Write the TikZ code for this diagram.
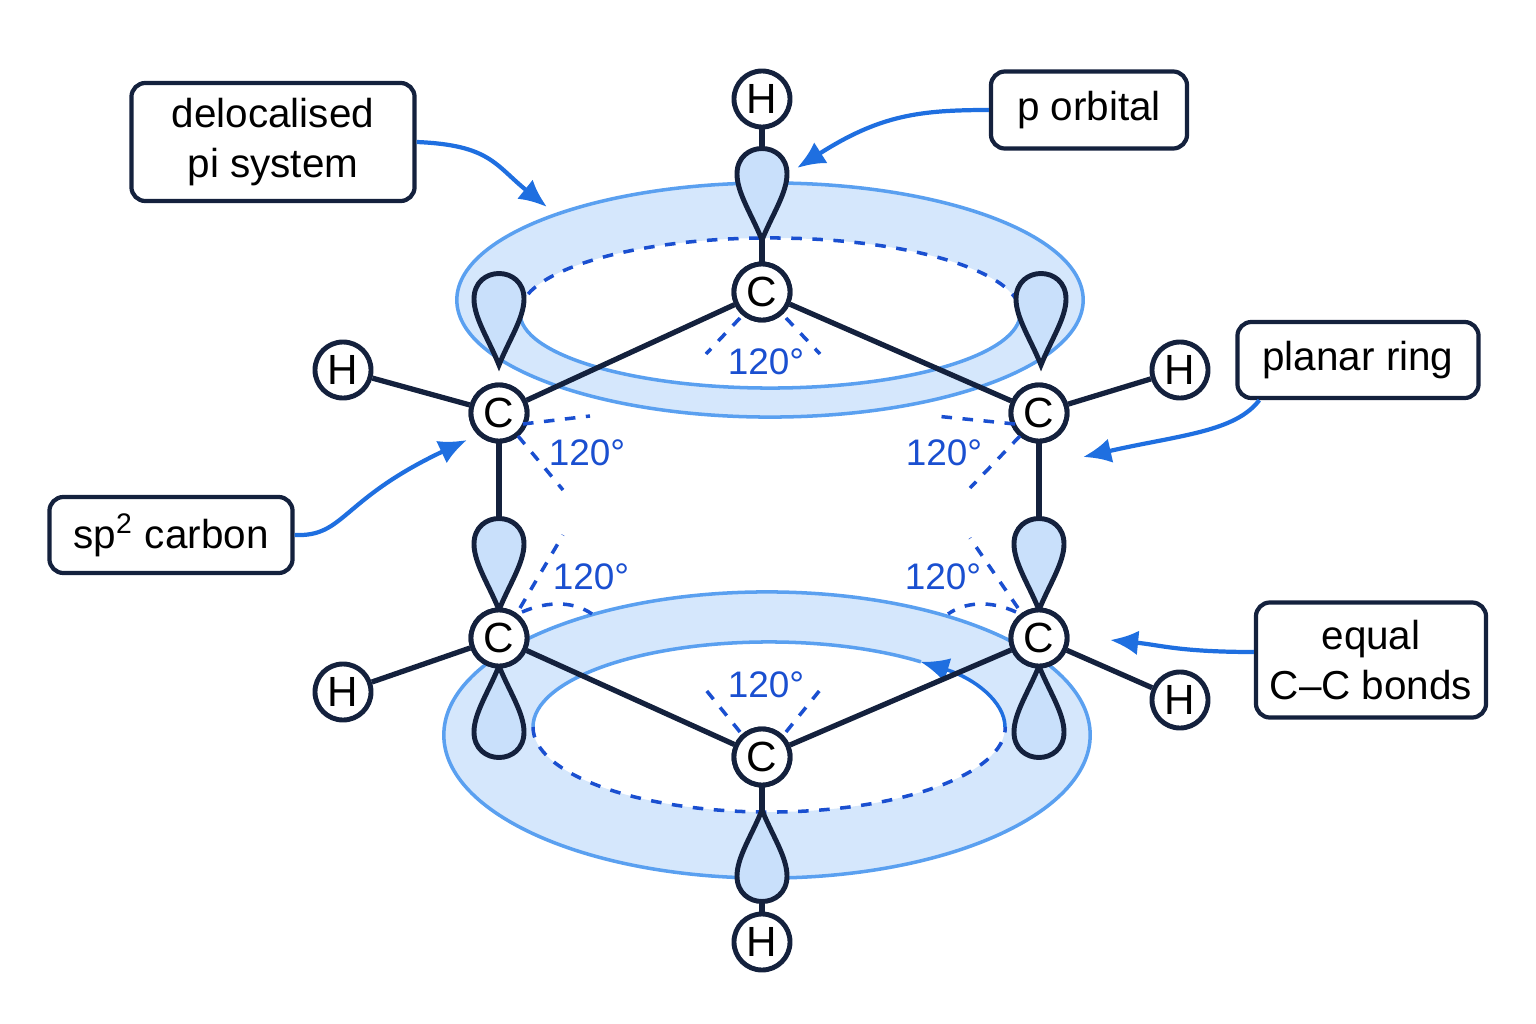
\documentclass[tikz,border=0pt]{standalone}
\usepackage{fontspec}
\setmainfont{Liberation Sans}
\usetikzlibrary{arrows.meta,positioning,calc}
\definecolor{navy}{HTML}{14213D}
\definecolor{ringfill}{HTML}{D5E7FC}
\definecolor{ringline}{HTML}{5AA0F0}
\definecolor{dashblue}{HTML}{1A4FD0}
\definecolor{callout}{HTML}{1F6FE0}
\definecolor{lobefill}{HTML}{C9E0FB}

\tikzset{
  atom/.style={circle, draw=navy, line width=1.4pt, fill=white, minimum size=0.56cm, inner sep=0pt, font=\fontsize{12}{12}\selectfont},
  bond/.style={navy, line width=1.5pt},
  label box/.style={draw=navy, line width=1.2pt, rounded corners=4pt, fill=white, align=center, font=\fontsize{11.5}{14}\selectfont},
  callout arrow/.style={callout, line width=1.2pt, -{Latex[length=8pt,width=7pt]}},
  angle/.style={dashblue, line width=1pt, dash pattern=on 3pt off 3pt},
  angle text/.style={text=dashblue, font=\fontsize{10.5}{10.5}\selectfont},
  lobe/.pic={
    \draw[navy, line width=1.4pt, fill=lobefill]
      (0,0) .. controls (-10,-25) and (-25,-47) .. (-25,-66)
      .. controls (-25,-100) and (25,-100) .. (25,-66)
      .. controls (25,-47) and (10,-25) .. (0,0) -- cycle;
  }
}

\begin{document}
\begin{tikzpicture}[x=0.01cm, y=-0.01cm]
  \useasboundingbox (0,0) rectangle (1536,1024);

  % pi rings
  \fill[ringfill, even odd rule] (770,300) ellipse [x radius=3.13cm, y radius=1.17cm]
    (770,313) ellipse [x radius=2.5cm, y radius=0.75cm];
  \draw[ringline, line width=1pt] (770,300) ellipse [x radius=3.13cm, y radius=1.17cm];
  \draw[ringline, line width=1pt] (520,313) arc [start angle=180, end angle=360, x radius=2.5cm, y radius=0.75cm];
  \draw[angle] (520,313) arc [start angle=180, end angle=0, x radius=2.5cm, y radius=0.75cm];

  \fill[ringfill, even odd rule] (767,735) ellipse [x radius=3.23cm, y radius=1.43cm]
    (769,727) ellipse [x radius=2.36cm, y radius=0.85cm];
  \draw[ringline, line width=1pt] (767,735) ellipse [x radius=3.23cm, y radius=1.43cm];
  \draw[ringline, line width=1pt] (533,727) arc [start angle=180, end angle=50, x radius=2.36cm, y radius=0.85cm];
  \draw[angle] (533,727) arc [start angle=180, end angle=360, x radius=2.36cm, y radius=0.85cm];
  \draw[callout, line width=1pt, -{Latex[length=8pt,width=7pt]}] (1005,727) arc [start angle=0, end angle=50, x radius=2.36cm, y radius=0.85cm];

  % atoms
  \node[atom] (C1) at (762,292) {C};
  \node[atom] (C2) at (499,413) {C};
  \node[atom] (C3) at (499,638) {C};
  \node[atom] (C4) at (762,757) {C};
  \node[atom] (C5) at (1039,638) {C};
  \node[atom] (C6) at (1039,413) {C};
  \node[atom] (H1) at (762,99) {H};
  \node[atom] (H2) at (343,370) {H};
  \node[atom] (H3) at (343,692) {H};
  \node[atom] (H4) at (762,942) {H};
  \node[atom] (H5) at (1180,700) {H};
  \node[atom] (H6) at (1180,370) {H};

  % bonds
  \foreach \a/\b in {C1/C2,C2/C3,C3/C4,C4/C5,C5/C6,C6/C1,C1/H1,C2/H2,C3/H3,C4/H4,C5/H5,C6/H6}
    \draw[bond] (\a) -- (\b);

  % p orbitals
  \pic at (762,240) {lobe};
  \pic at (499,365) {lobe};
  \pic at (1041,365) {lobe};
  \pic at (499,610) {lobe};
  \pic[rotate=180] at (499,666) {lobe};
  \pic at (1039,610) {lobe};
  \pic[rotate=180] at (1039,666) {lobe};
  \pic[rotate=180] at (762,810) {lobe};
  \foreach \n in {C1,C2,C3,C4,C5,C6}
    \node[atom] at (\n) {C};

  % bond angles
  \draw[angle] (740,318) -- (706,354) (786,318) -- (820,354);
  \node[angle text] at (766,362) {120°};
  \draw[angle] (523,424) -- (590,416) (518,436) -- (563,490);
  \node[angle text] at (587,453) {120°};
  \draw[angle] (1015,424) -- (935,416) (1020,436) -- (970,488);
  \node[angle text] at (944,453) {120°};
  \draw[angle] (520,608) -- (563,535) (522,612) .. controls (550,600) and (575,602) .. (592,614);
  \node[angle text] at (591,577) {120°};
  \draw[angle] (1018,608) -- (970,538) (1016,612) .. controls (990,600) and (965,602) .. (948,614);
  \node[angle text] at (943,577) {120°};
  \draw[angle] (740,732) -- (706,690) (786,732) -- (820,690);
  \node[angle text] at (766,685) {120°};

  % callouts
  \node[label box, minimum width=2.83cm, minimum height=1.18cm] (deloc) at (273,142) {delocalised\\pi system};
  \node[label box, minimum width=1.96cm, minimum height=0.77cm] (porb) at (1089,110) {p orbital};
  \node[label box, minimum width=2.41cm, minimum height=0.76cm] (planar) at (1358,360) {planar ring};
  \node[label box, minimum width=2.43cm, minimum height=0.76cm] (sp2) at (171,535) {sp\textsuperscript{2} carbon};
  \node[label box, minimum width=2.3cm, minimum height=1.15cm] (equal) at (1371,660) {equal\\C–C bonds};

  \coordinate (ringtop) at (547,207);
  \coordinate (lobetop) at (797,168);
  \coordinate (ringside) at (1083,457);
  \coordinate (carbon) at (467,440);
  \coordinate (bondtip) at (1110,640);
  \draw[callout arrow] (deloc.east) .. controls (490,145) and (495,165) .. (ringtop);
  \draw[callout arrow] (porb.west) .. controls (920,110) and (880,115) .. (lobetop);
  \draw[callout arrow] ($(planar.south west)+(24,0)$) .. controls (1235,432) and (1180,435) .. (ringside);
  \draw[callout arrow] (sp2.east) .. controls (345,537) and (340,500) .. (carbon);
  \draw[callout arrow] ($(equal.west)+(0,-8)$) .. controls (1180,652) and (1160,645) .. (bondtip);
\end{tikzpicture}
\end{document}
